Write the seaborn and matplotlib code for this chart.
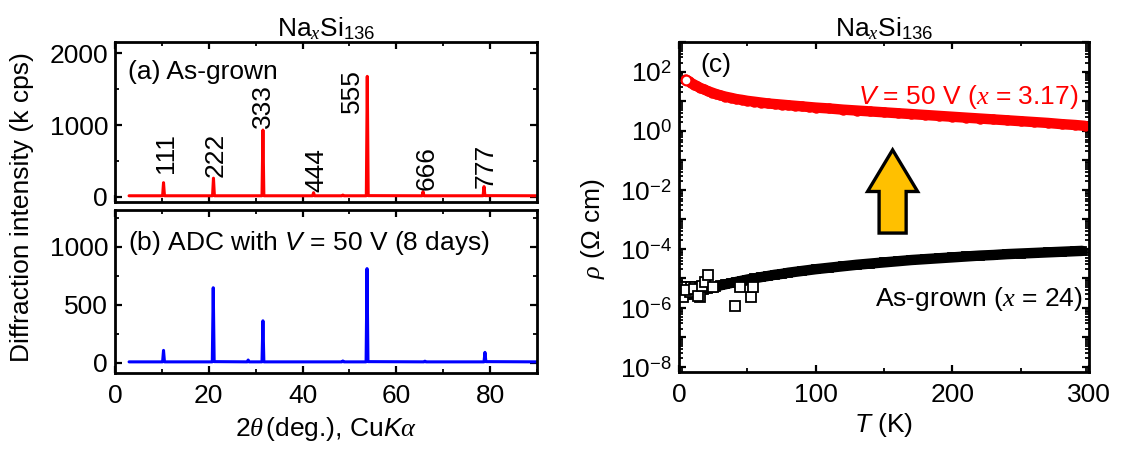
import numpy as np
import matplotlib
matplotlib.use("Agg")
import matplotlib.pyplot as plt
import seaborn as sns
from matplotlib.ticker import MultipleLocator, FixedLocator, FuncFormatter, LogLocator, NullFormatter
from matplotlib.patches import FancyArrow

# ---------------- data ----------------
# (a) XRD pattern, as-grown (vertices of the measured trace, 2theta in deg, intensity in k cps)
two_theta_a = [3.0, 10.15, 10.35, 10.55, 20.8, 21.0, 21.2, 31.35, 31.55, 31.75,
               42.15, 42.35, 42.55, 48.4, 48.6, 48.8, 53.6, 53.8, 54.0,
               65.5, 65.7, 65.9, 78.5, 78.7, 78.9, 90.0]
intensity_a = [12, 12, 195, 12, 12, 258, 12, 12, 930, 12,
               12, 55, 12, 12, 22, 12, 12, 1680, 14,
               12, 70, 12, 12, 140, 14, 12]

# (b) XRD pattern after ADC with V = 50 V (8 days)
two_theta_b = [3.0, 10.15, 10.35, 10.55, 20.75, 20.95, 21.15, 28.2, 28.4, 28.6,
               31.35, 31.55, 31.75, 48.4, 48.6, 48.8, 53.55, 53.75, 53.95,
               65.9, 66.1, 66.3, 78.7, 78.9, 79.1, 90.0]
intensity_b = [6, 6, 105, 6, 6, 645, 8, 6, 22, 6,
               6, 360, 6, 6, 14, 6, 6, 810, 8,
               6, 12, 6, 6, 88, 8, 6]

peak_hkl = ["111", "222", "333", "444", "555", "666", "777"]
peak_label_x = [10.9, 21.5, 31.6, 43.0, 50.6, 66.4, 79.1]
peak_label_y = [330, 280, 955, 70, 1165, 95, 118]

# (c) resistivity vs temperature
T_v50 = [5, 7, 9, 11, 13, 15, 18, 21, 24, 27, 30, 34, 38, 42, 46, 50, 55, 60, 65, 70,
         75, 80, 85, 90, 95, 100, 110, 120, 130, 140, 150, 160, 170, 180, 190, 200,
         210, 220, 230, 240, 250, 260, 270, 280, 290, 297]
rho_v50 = [53.7, 46.8, 40.7, 36.3, 32.4, 28.8, 25.1, 21.9, 19.5, 17.4, 15.8, 14.1, 12.9,
           11.7, 11.0, 10.2, 9.55, 8.91, 8.32, 7.94, 7.59, 7.24, 6.92, 6.61, 6.31, 6.03,
           5.62, 5.13, 4.79, 4.47, 4.17, 3.89, 3.63, 3.39, 3.16, 2.95, 2.75, 2.57, 2.40,
           2.24, 2.09, 1.95, 1.82, 1.66, 1.55, 1.45]

T_asgrown = [3, 5, 7, 9, 11, 13, 15, 18, 21, 24, 27, 30, 34, 38, 42, 46, 50, 55, 60, 65,
             70, 75, 80, 90, 100, 110, 120, 130, 140, 150, 160, 170, 180, 190, 200, 210,
             220, 230, 240, 250, 260, 270, 280, 290, 295]
rho_asgrown = [2.51e-6, 2.69e-6, 2.82e-6, 3.02e-6, 3.24e-6, 3.47e-6, 3.72e-6, 4.07e-6,
               4.47e-6, 4.90e-6, 5.25e-6, 5.75e-6, 6.31e-6, 6.92e-6, 7.59e-6, 8.32e-6,
               9.12e-6, 1.00e-5, 1.10e-5, 1.20e-5, 1.32e-5, 1.41e-5, 1.55e-5, 1.78e-5,
               2.04e-5, 2.29e-5, 2.57e-5, 2.88e-5, 3.16e-5, 3.47e-5, 3.80e-5, 4.17e-5,
               4.47e-5, 4.79e-5, 5.13e-5, 5.50e-5, 5.89e-5, 6.17e-5, 6.61e-5, 6.92e-5,
               7.24e-5, 7.59e-5, 7.94e-5, 8.32e-5, 8.51e-5]

# scattered low-temperature points of the as-grown sample
T_asgrown_low = [3, 6, 9, 12, 15, 3, 8, 15, 5, 11, 14, 17, 19, 21.5, 25, 41, 44.6, 53, 54]
rho_asgrown_low = [5.1e-6, 5.1e-6, 5.1e-6, 5.1e-6, 5.0e-6, 2.34e-6, 3.5e-6, 2.34e-6,
                   4.0e-6, 4.5e-6, 2.5e-6, 5.6e-6, 7.6e-6, 1.26e-5, 5.0e-6, 1.2e-6,
                   5.1e-6, 2.4e-6, 5.1e-6]

# ---------------- style ----------------
sns.set_theme(style="ticks")
plt.rcParams["font.family"] = ["Liberation Sans", "DejaVu Sans"]
plt.rcParams.update({
    "font.size": 19,
    "mathtext.fontset": "custom",
    "mathtext.rm": "Liberation Sans",
    "mathtext.it": "Liberation Serif:italic",
    "mathtext.sf": "Liberation Sans:italic",
    "mathtext.bf": "Liberation Sans:bold",
    "axes.linewidth": 2.0,
    "axes.edgecolor": "black",
    "axes.labelcolor": "black",
    "axes.titlecolor": "black",
    "xtick.direction": "in",
    "ytick.direction": "in",
    "xtick.top": True,
    "ytick.right": True,
    "xtick.major.size": 5,
    "ytick.major.size": 5,
    "xtick.minor.size": 3,
    "ytick.minor.size": 3,
    "xtick.major.width": 1.6,
    "ytick.major.width": 1.6,
    "xtick.minor.width": 1.3,
    "ytick.minor.width": 1.3,
    "xtick.major.pad": 8,
    "ytick.major.pad": 5,
    "xtick.labelsize": 19,
    "ytick.labelsize": 19,
    "xtick.color": "black",
    "ytick.color": "black",
    "xtick.labelcolor": "black",
    "ytick.labelcolor": "black",
    "axes.labelsize": 19,
    "text.color": "black",
})

W, H = 1121, 450
fig = plt.figure(figsize=(W / 100, H / 100), dpi=100)
fig.patch.set_facecolor("white")


def frac(x0, y0, x1, y1):
    return [x0 / W, 1 - y1 / H, (x1 - x0) / W, (y1 - y0) / H]


ax_a = fig.add_axes(frac(115, 42, 537, 202))
ax_b = fig.add_axes(frac(115, 210, 537, 373))
ax_c = fig.add_axes(frac(679, 42, 1089, 372))

title = r"Na$_{x}$Si$_{136}$"

# ---------------- (a) ----------------
sns.lineplot(x=two_theta_a, y=intensity_a, ax=ax_a, color="#ff0000", lw=2.2,
             estimator=None, sort=False)
ax_a.set_xlim(0, 90)
ax_a.set_ylim(-75, 2160)
ax_a.xaxis.set_major_locator(MultipleLocator(20))
ax_a.xaxis.set_minor_locator(MultipleLocator(10))
ax_a.yaxis.set_major_locator(MultipleLocator(1000))
ax_a.yaxis.set_minor_locator(MultipleLocator(500))
ax_a.tick_params(axis="x", which="both", labelbottom=False)
ax_a.set_title(title, fontsize=19, pad=3)
ax_a.text(0.03, 0.81, "(a) As-grown", transform=ax_a.transAxes, ha="left", va="center")
for lab, px, py in zip(peak_hkl, peak_label_x, peak_label_y):
    ax_a.text(px, py, lab, rotation=90, ha="center", va="bottom", fontsize=19)

# ---------------- (b) ----------------
sns.lineplot(x=two_theta_b, y=intensity_b, ax=ax_b, color="#0000ff", lw=2.2,
             estimator=None, sort=False)
ax_b.set_xlim(0, 90)
ax_b.set_ylim(-90, 1315)
ax_b.xaxis.set_major_locator(MultipleLocator(20))
ax_b.xaxis.set_minor_locator(MultipleLocator(10))
ax_b.yaxis.set_major_locator(MultipleLocator(500))
ax_b.yaxis.set_minor_locator(MultipleLocator(250))
ax_b.set_xlabel(r"2$\theta\,$(deg.), Cu$\mathsf{K}\alpha$", labelpad=5)
ax_b.text(0.03, 0.80, r"(b) ADC with $\mathsf{V}$ = 50 V (8 days)",
          transform=ax_b.transAxes, ha="left", va="center")

fig.text(22 / W, 1 - 207 / H, "Diffraction intensity (k cps)", rotation=90,
         ha="center", va="center", fontsize=19)

# ---------------- (c) ----------------
ax_c.set_yscale("log")
sns.lineplot(x=T_v50, y=rho_v50, ax=ax_c, color="#ff0000", lw=7.5,
             marker="o", markersize=6, markerfacecolor="none", markeredgecolor="#ff0000",
             markeredgewidth=1.5, estimator=None, sort=False)
ax_c.plot(T_v50[0], rho_v50[0], marker="o", markersize=7, markerfacecolor="white",
          markeredgecolor="#ff0000", markeredgewidth=1.5, zorder=4)
sns.lineplot(x=T_asgrown, y=rho_asgrown, ax=ax_c, color="black", lw=7.5,
             marker="s", markersize=5.5, markerfacecolor="none", markeredgecolor="black",
             markeredgewidth=1.3, estimator=None, sort=False)
sns.lineplot(x=T_asgrown_low, y=rho_asgrown_low, ax=ax_c, color="black", lw=0,
             linestyle="none", marker="s", markersize=6.5, markerfacecolor="white",
             markeredgecolor="black", markeredgewidth=1.3, estimator=None, sort=False)

ax_c.set_xlim(0, 300)
ax_c.set_ylim(10 ** -8.17, 10 ** 3.0)
ax_c.xaxis.set_major_locator(MultipleLocator(100))
ax_c.xaxis.set_minor_locator(MultipleLocator(50))
ax_c.yaxis.set_major_locator(FixedLocator(10.0 ** np.arange(-8, 4)))
ax_c.yaxis.set_minor_locator(LogLocator(base=10, subs=np.arange(2, 10), numticks=30))
ax_c.yaxis.set_minor_formatter(NullFormatter())


def log_label(v, pos):
    e = int(round(np.log10(v)))
    return r"$10^{%d}$" % e if e % 2 == 0 else ""


ax_c.yaxis.set_major_formatter(FuncFormatter(log_label))
ax_c.set_title(title, fontsize=19, pad=3)
ax_c.set_xlabel(r"$\mathsf{T}$ (K)", labelpad=3)
ax_c.set_ylabel(r"$\rho$ ($\Omega$ cm)")
ax_c.yaxis.set_label_coords(-0.176, 0.435)

ax_c.text(0.051, 0.93, "(c)", transform=ax_c.transAxes, ha="left", va="center")
ax_c.text(0.973, 0.833, r"$\mathsf{V}$ = 50 V ($x$ = 3.17)", transform=ax_c.transAxes,
          ha="right", va="center", color="#ff0000")
ax_c.text(0.985, 0.221, r"As-grown ($x$ = 24)", transform=ax_c.transAxes,
          ha="right", va="center", color="black")

arrow = FancyArrow(0.521, 0.421, 0, 0.252, width=0.066, head_width=0.122,
                   head_length=0.126, length_includes_head=True,
                   transform=ax_c.transAxes, facecolor="#ffc000", edgecolor="black",
                   linewidth=2.4, zorder=5)
ax_c.add_patch(arrow)

for ax in (ax_a, ax_b, ax_c):
    for s in ax.spines.values():
        s.set_linewidth(2.0)
        s.set_visible(True)
    ax.set_facecolor("white")
    ax.tick_params(which="both", direction="in", top=True, right=True)

fig.savefig("out.png", dpi=100, facecolor="white")
